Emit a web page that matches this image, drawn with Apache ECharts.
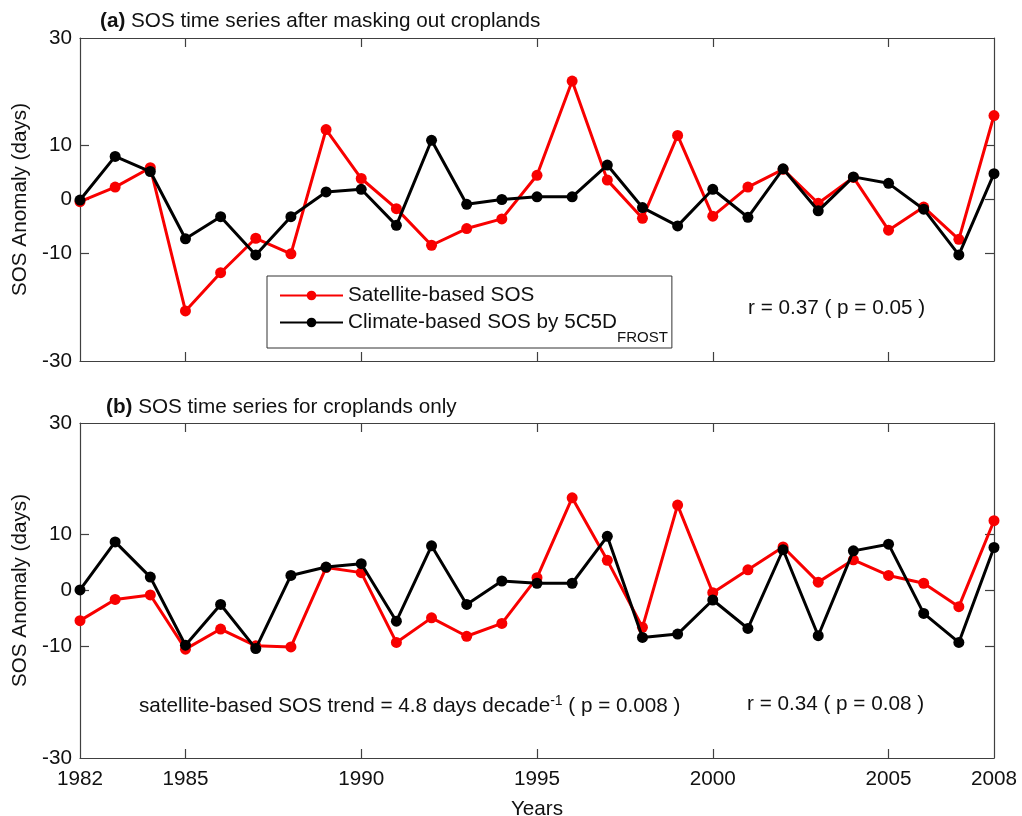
<!DOCTYPE html>
<html>
<head>
<meta charset="utf-8">
<script src="https://cdn.jsdelivr.net/npm/echarts@6/dist/echarts.min.js"></script>
<style>
html,body{margin:0;padding:0;background:#fff;}
#c{width:1022px;height:816px;}
</style>
</head>
<body>
<div id="c"></div>
<script>
const years = [1982,1983,1984,1985,1986,1987,1988,1989,1990,1991,1992,1993,1994,1995,1996,1997,1998,1999,2000,2001,2002,2003,2004,2005,2006,2007,2008];
const satelliteA = [-0.4,2.3,5.9,-20.7,-13.6,-7.2,-10.1,13.0,3.9,-1.7,-8.5,-5.4,-3.6,4.5,22.0,3.6,-3.5,11.9,-3.1,2.3,5.6,-0.7,4.1,-5.7,-1.4,-7.4,15.6];
const climateA = [-0.1,8.0,5.2,-7.3,-3.2,-10.3,-3.2,1.4,1.9,-4.8,11.0,-0.9,0.0,0.5,0.5,6.4,-1.5,-4.9,1.9,-3.3,5.7,-2.1,4.2,3.0,-1.8,-10.3,4.8];
const satelliteB = [-5.4,-1.6,-0.8,-10.5,-6.9,-9.9,-10.1,4.1,3.2,-9.3,-4.9,-8.2,-5.9,2.3,16.6,5.4,-6.6,15.3,-0.4,3.7,7.8,1.5,5.5,2.7,1.3,-2.9,12.5];
const climateB = [0.1,8.7,2.4,-9.8,-2.5,-10.4,2.7,4.2,4.8,-5.5,8.0,-2.5,1.7,1.3,1.3,9.7,-8.4,-7.8,-1.7,-6.8,7.3,-8.1,7.1,8.3,-4.1,-9.3,7.7];
const xLabelValues = [1982,1985,1990,1995,2000,2005,2008];
const xTickValues = [1985,1990,1995,2000,2005];
const yLabelValues = [-30,-10,0,10,30];
const yTickValues = [-10,0,10];
const seriesNames = ['Satellite-based SOS','Climate-based SOS by 5C5D'];

const FONT = 'Liberation Sans, Arial, sans-serif';
const FS = 20.7;
const AX = '#404040';
const RED = '#f80000';
const TXT = '#111';

function pairs(arr){ return years.map((y,i)=>[y, arr[i]]); }

function xAx(grid, pos, labels){
  const a = {
    type:'value', gridIndex:grid, position:pos, min:1982, max:2008,
    axisLine:{show:true, onZero:false, lineStyle:{color:AX, width:1.2}},
    axisTick:{show:true, inside:true, length:9, customValues:xTickValues, lineStyle:{color:AX, width:1.2}},
    axisLabel:{show:labels, customValues:xLabelValues, color:TXT, fontSize:FS, fontFamily:FONT, margin:11,
      formatter:function(v){ return String(v); }},
    splitLine:{show:false}
  };
  if(labels){ a.name='Years'; a.nameLocation='middle'; a.nameGap=41;
    a.nameTextStyle={color:TXT, fontSize:FS, fontFamily:FONT}; }
  return a;
}
function yAx(grid, pos, labels){
  const a = {
    type:'value', gridIndex:grid, position:pos, min:-30, max:30, interval:20,
    axisLine:{show:true, onZero:false, lineStyle:{color:AX, width:1.2}},
    axisTick:{show:true, inside:true, length:9, customValues:yTickValues, lineStyle:{color:AX, width:1.2}},
    axisLabel:{show:labels, customValues:yLabelValues, color:TXT, fontSize:FS, fontFamily:FONT, margin:8},
    splitLine:{show:false}
  };
  if(labels){ a.name='SOS Anomaly (days)'; a.nameLocation='middle'; a.nameGap=46;
    a.nameTextStyle={color:TXT, fontSize:FS, fontFamily:FONT}; }
  return a;
}
function line(name, data, color, xi, yi, z){
  return {
    type:'line', name:name, data:pairs(data), xAxisIndex:xi, yAxisIndex:yi,
    symbol:'circle', symbolSize:11, showSymbol:true, z:z,
    lineStyle:{color:color, width:3}, itemStyle:{color:color},
    animation:false, emphasis:{disabled:true}
  };
}

const chart = echarts.init(document.getElementById('c'), null, {renderer:'canvas'});
chart.setOption({
  backgroundColor:'#fff',
  animation:false,
  title:[
    {text:'{b|(a)} SOS time series after masking out croplands', left:95, top:6,
     textStyle:{fontSize:FS, fontWeight:'normal', color:TXT, fontFamily:FONT,
       rich:{b:{fontSize:FS, fontWeight:'bold', color:TXT, fontFamily:FONT}}}},
    {text:'{b|(b)} SOS time series for croplands only', left:101, top:392,
     textStyle:{fontSize:FS, fontWeight:'normal', color:TXT, fontFamily:FONT,
       rich:{b:{fontSize:FS, fontWeight:'bold', color:TXT, fontFamily:FONT}}}}
  ],
  grid:[
    {left:80, top:38, width:914, height:323, containLabel:false, outerBoundsMode:'none'},
    {left:80, top:423, width:914, height:335, containLabel:false, outerBoundsMode:'none'}
  ],
  xAxis:[xAx(0,'bottom',false), xAx(0,'top',false), xAx(1,'bottom',true), xAx(1,'top',false)],
  yAxis:[yAx(0,'left',true), yAx(0,'right',false), yAx(1,'left',true), yAx(1,'right',false)],
  legend:{
    data:seriesNames, orient:'vertical', left:267, top:276,
    backgroundColor:'#fff', borderColor:'#333', borderWidth:1, borderRadius:0,
    padding:[9,4,3,12], itemWidth:63, itemHeight:12, itemGap:6, selectedMode:false,
    formatter:function(n){ return n===seriesNames[1] ? '{t|'+n+'}{s|FROST}' : '{t|'+n+'}'; },
    textStyle:{color:TXT, fontSize:FS, fontFamily:FONT,
      rich:{t:{fontSize:FS, fontFamily:FONT, color:TXT, lineHeight:24, verticalAlign:'middle'},
            s:{fontSize:15, fontFamily:FONT, color:TXT, verticalAlign:'bottom', padding:[30,0,0,0]}}}
  },
  graphic:[
    {type:'text', left:748, top:298, style:{text:'r = 0.37 ( p = 0.05 )', font:FS+'px '+FONT, fill:TXT}},
    {type:'text', left:139, top:694, style:{
      text:'satellite-based SOS trend = 4.8 days decade{sup|-1} ( p = 0.008 )',
      font:FS+'px '+FONT, fill:TXT,
      rich:{sup:{fontSize:14, fontFamily:FONT, fill:TXT, padding:[0,0,11,0]}}}},
    {type:'text', left:747, top:694, style:{text:'r = 0.34 ( p = 0.08 )', font:FS+'px '+FONT, fill:TXT}}
  ],
  series:[
    line(seriesNames[0], satelliteA, RED, 0, 0, 2),
    line(seriesNames[1], climateA, '#000', 0, 0, 3),
    line(seriesNames[0], satelliteB, RED, 2, 2, 2),
    line(seriesNames[1], climateB, '#000', 2, 2, 3)
  ]
});
</script>
</body>
</html>
